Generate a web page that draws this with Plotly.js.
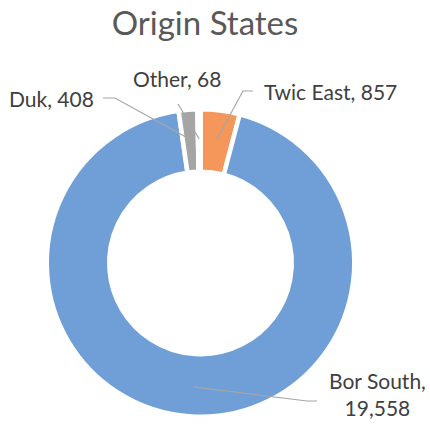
<!DOCTYPE html>
<html><head><meta charset="utf-8">
<script src="https://cdn.plot.ly/plotly-3.0.1.min.js"></script>
<style>html,body{margin:0;padding:0;background:#fff}</style>
</head><body><div id="chart" style="width:430px;height:425px"></div>
<script>
// ---- data ----
const labels = ['Twic East', 'Bor South', 'Duk', 'Other'];
const values = [857, 19558, 408, 68];
const colors = ['#F5975B', '#6F9FD6', '#A5A5A5', '#FFC000'];
const chartTitle = 'Origin States';

// ---- layout constants (pixels) ----
const W = 430, H = 425;
const cx = 200.5, cy = 263;          // donut centre
const Rvis = 151.5, rInVis = 93.5;   // visible outer / inner radius
const gap = 4.5;                     // white separator width
const anchorR = 124;                 // leader line start radius
// label placement: elbow point, end point, text anchor
const labelPlace = [
  {elbow:[243,91], end:[253,91], tx:262, ty:91, xa:'left', wrap:false},
  {elbow:[307,401], end:[317,401], tx:377, ty:394, xa:'center', wrap:true},
  {elbow:[115,98], end:[103,98], tx:96, ty:98, xa:'right', wrap:false},
  {elbow:[178,104], end:[178,104], tx:177, ty:78, xa:'center', wrap:false}
];

const R = Rvis + gap/2;
const hole = (rInVis - gap/2) / R;
const px = x => x / W, py = y => 1 - y / H;

const total = values.reduce((a,b)=>a+b,0);
let cum = 0;
const shapes = [], annotations = [];
values.forEach((v,i) => {
  const mid = (cum + v/2) / total * 2 * Math.PI;
  cum += v;
  const sx = cx + anchorR * Math.sin(mid), sy = cy - anchorR * Math.cos(mid);
  const L = labelPlace[i];
  shapes.push({type:'path', xref:'paper', yref:'paper',
    path:`M ${px(sx)},${py(sy)} L ${px(L.elbow[0])},${py(L.elbow[1])} L ${px(L.end[0])},${py(L.end[1])}`,
    line:{color:'#A6A6A6', width:1.2}});
  const txt = labels[i] + ',' + (L.wrap ? '<br>' : ' ') + v.toLocaleString('en-US');
  annotations.push({xref:'paper', yref:'paper', x:px(L.tx), y:py(L.ty), xanchor:L.xa, yanchor:'middle',
    text:txt, showarrow:false, align:'center',
    font:{family:'Lato, Open Sans, sans-serif', size:21, color:'#404040'}});
});

const trace = {
  type:'pie', labels:labels, values:values, hole:hole, sort:false,
  direction:'clockwise', rotation:0, textinfo:'none', hoverinfo:'label+value',
  marker:{colors:colors, line:{color:'#FFFFFF', width:gap}},
  domain:{x:[px(cx-R), px(cx+R)], y:[py(cy+R), py(cy-R)]},
  showlegend:false
};

const layout = {
  width:W, height:H, margin:{l:0,r:0,t:0,b:0},
  paper_bgcolor:'#FFFFFF', plot_bgcolor:'#FFFFFF',
  title:{text:chartTitle, x:205/W, xanchor:'center', y:1-23/H, yanchor:'middle', yref:'container',
    font:{family:'Lato, Open Sans, sans-serif', size:33, color:'#595959'}},
  shapes:shapes, annotations:annotations, showlegend:false
};
Plotly.newPlot('chart', [trace], layout, {displayModeBar:false, staticPlot:true});
</script></body></html>
